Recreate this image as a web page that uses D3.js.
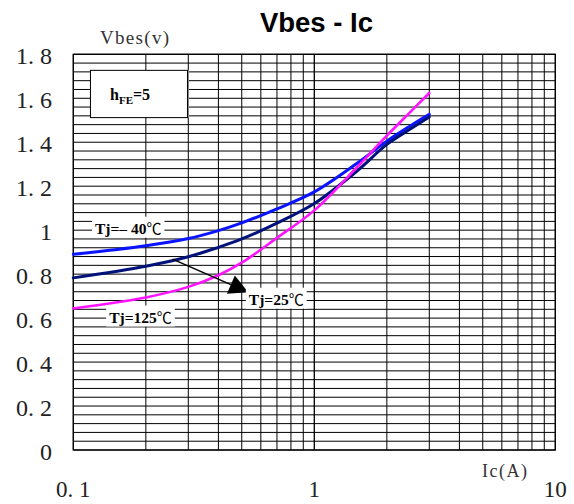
<!DOCTYPE html>
<html>
<head>
<meta charset="utf-8">
<script src="https://cdn.jsdelivr.net/npm/d3@7"></script>
<style>
  body { margin: 0; background: #fff; }
  svg { display: block; }
</style>
</head>
<body>
<svg id="chart" width="574" height="504"></svg>
<script>
// collector current samples (A)
const ic = [0.1, 0.2, 0.3, 0.4, 0.5, 0.7, 1, 1.5, 2, 2.5, 3];
// Vbes (V) per junction temperature
const vbesMinus40 = [0.89, 0.929, 0.962, 0.998, 1.033, 1.097, 1.174, 1.303, 1.405, 1.474, 1.527];
const vbes25 = [0.783, 0.836, 0.879, 0.922, 0.96, 1.032, 1.121, 1.268, 1.39, 1.46, 1.515];
const vbes125 = [0.644, 0.694, 0.742, 0.795, 0.852, 0.965, 1.09, 1.285, 1.43, 1.537, 1.624];

const yTicks = [0, 0.2, 0.4, 0.6, 0.8, 1, 1.2, 1.4, 1.6, 1.8];
const yTickLabels = ["0", "0. 2", "0. 4", "0. 6", "0. 8", "1", "1. 2", "1. 4", "1. 6", "1. 8"];
const xTicks = [0.1, 1, 10];
const xTickLabels = ["0. 1", "1", "10"];

const series = [
  { name: "Tj=\u2013 40", values: vbesMinus40, color: "#0a14ff", width: 3 },
  { name: "Tj=25", values: vbes25, color: "#00127a", width: 3 },
  { name: "Tj=125", values: vbes125, color: "#ff14ff", width: 2.6 }
];

const svg = d3.select("#chart");
const plotL = 73.3, plotR = 555.3, plotT = 54.3, plotB = 450;

const x = d3.scaleLog().domain([0.1, 10]).range([plotL, plotR]);
const y = d3.scaleLinear().domain([0, 1.8]).range([plotB, plotT]);

// grid: horizontal every 0.04 V
const hLines = d3.range(0, 1.8001, 0.04);
svg.append("g")
  .selectAll("line")
  .data(hLines)
  .enter()
  .append("line")
  .attr("x1", plotL).attr("x2", plotR)
  .attr("y1", d => y(d)).attr("y2", d => y(d))
  .attr("stroke", "#000")
  .attr("stroke-width", 1);

// grid: log minor lines
const vLines = [];
[0.1, 1].forEach(dec => { for (let k = 1; k <= 10; k++) vLines.push(dec * k); });
svg.append("g")
  .selectAll("line")
  .data(vLines)
  .enter()
  .append("line")
  .attr("x1", d => x(d)).attr("x2", d => x(d))
  .attr("y1", plotT).attr("y2", plotB)
  .attr("stroke", "#000")
  .attr("stroke-width", 1);

svg.append("rect")
  .attr("x", plotL).attr("y", plotT)
  .attr("width", plotR - plotL).attr("height", plotB - plotT)
  .attr("fill", "none")
  .attr("stroke", "#000")
  .attr("stroke-width", 1.3);

// tick labels
const tickFont = "'Liberation Serif', 'DejaVu Serif', serif";
svg.append("g")
  .selectAll("text")
  .data(yTicks)
  .enter()
  .append("text")
  .attr("x", 52)
  .attr("y", d => y(d) + 10)
  .attr("text-anchor", "end")
  .attr("font-family", tickFont)
  .attr("font-size", 24)
  .attr("fill", "#222")
  .text((d, i) => yTickLabels[i]);

svg.append("g")
  .selectAll("text")
  .data(xTicks)
  .enter()
  .append("text")
  .attr("x", d => x(d))
  .attr("y", 497)
  .attr("text-anchor", "middle")
  .attr("font-family", tickFont)
  .attr("font-size", 23)
  .attr("fill", "#222")
  .text((d, i) => xTickLabels[i]);

// axis titles
svg.append("text")
  .attr("x", 100).attr("y", 44)
  .attr("font-family", tickFont)
  .attr("font-size", 19)
  .attr("letter-spacing", 1.3)
  .attr("fill", "#333")
  .text("Vbes(v)");

svg.append("text")
  .attr("x", 482).attr("y", 477)
  .attr("font-family", tickFont)
  .attr("font-size", 18)
  .attr("letter-spacing", 1.5)
  .attr("fill", "#333")
  .text("Ic(A)");

// title
svg.append("text")
  .attr("x", 316.5).attr("y", 32.3)
  .attr("text-anchor", "middle")
  .attr("font-family", "'Liberation Sans', Arial, sans-serif")
  .attr("font-weight", "bold")
  .attr("font-size", 27.5)
  .text("Vbes - Ic");

// curves
const line = d3.line()
  .curve(d3.curveCatmullRom.alpha(0.5))
  .x(d => x(d[0]))
  .y(d => y(d[1]));

svg.append("g")
  .selectAll("path")
  .data(series)
  .enter()
  .append("path")
  .attr("d", s => line(ic.map((c, i) => [c, s.values[i]])))
  .attr("fill", "none")
  .attr("stroke", s => s.color)
  .attr("stroke-width", s => s.width)
  .attr("stroke-linecap", "round");

// hFE box
const box = { i0: 0.1178, i1: 0.2977, v0: 1.727, v1: 1.512 };
svg.append("rect")
  .attr("x", x(box.i0) + 1.5).attr("y", y(box.v0))
  .attr("width", x(box.i1) - x(box.i0)).attr("height", y(box.v1) - y(box.v0))
  .attr("fill", "#888");
svg.append("rect")
  .attr("x", x(box.i0)).attr("y", y(box.v0))
  .attr("width", x(box.i1) - x(box.i0)).attr("height", y(box.v1) - y(box.v0))
  .attr("fill", "#fff")
  .attr("stroke", "#000")
  .attr("stroke-width", 1);
const hfe = svg.append("text")
  .attr("x", 110).attr("y", 100)
  .attr("font-family", tickFont)
  .attr("font-weight", "bold")
  .attr("font-size", 16);
hfe.append("tspan").text("h");
hfe.append("tspan").attr("font-size", 11).attr("dy", 3.5).text("FE");
hfe.append("tspan").attr("dy", -3.5).text("=5");

// arrow for Tj=25
const from = [x(0.258), y(0.868)];
const tip = [x(0.532), y(0.718)];
const ang = Math.atan2(tip[1] - from[1], tip[0] - from[0]);
const headLen = 19, headHalf = 10;
const base = [tip[0] - headLen * Math.cos(ang), tip[1] - headLen * Math.sin(ang)];
svg.append("line")
  .attr("x1", from[0]).attr("y1", from[1])
  .attr("x2", base[0]).attr("y2", base[1])
  .attr("stroke", "#000")
  .attr("stroke-width", 1.5);
svg.append("path")
  .attr("d", d3.line()([
    tip,
    [base[0] - headHalf * Math.sin(ang), base[1] + headHalf * Math.cos(ang)],
    [base[0] + headHalf * Math.sin(ang), base[1] - headHalf * Math.cos(ang)]
  ]) + "Z")
  .attr("fill", "#000");

// curve labels with white backing
const labels = [
  { text: series[0].name, i: 0.169, v: 1.009, anchor: "middle" },
  { text: series[2].name, i: 0.19, v: 0.605, anchor: "middle" },
  { text: series[1].name, i: 0.535, v: 0.686, anchor: "start" }
];
labels.forEach(l => {
  const g = svg.append("g");
  const t = g.append("text")
    .attr("x", x(l.i)).attr("y", y(l.v) + 5.5)
    .attr("text-anchor", l.anchor)
    .attr("font-family", tickFont)
    .attr("font-weight", "bold")
    .attr("font-size", 15.5);
  t.append("tspan").text(l.text);
  t.append("tspan")
    .attr("font-family", "'Noto Sans CJK SC', sans-serif")
    .attr("font-weight", "normal")
    .attr("font-size", 15)
    .text("\u2103");
  const bb = t.node().getBBox();
  g.insert("rect", "text")
    .attr("x", bb.x - 3).attr("y", bb.y)
    .attr("width", bb.width + 6).attr("height", bb.height)
    .attr("fill", "#fff");
});
</script>
</body>
</html>
